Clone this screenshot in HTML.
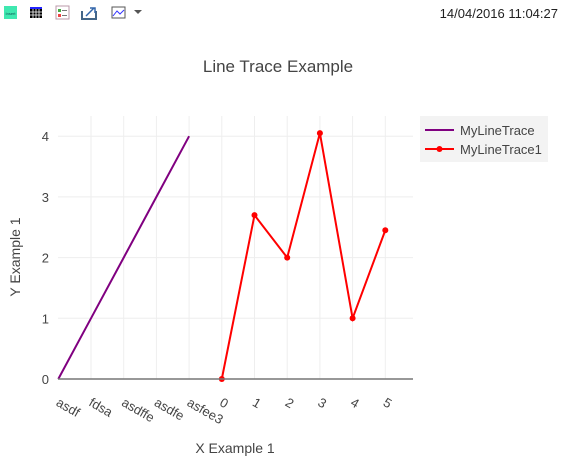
<!DOCTYPE html>
<html><head><meta charset="utf-8"><style>
body{margin:0;background:#fff;font-family:"Liberation Sans",sans-serif;}
svg text{font-family:"Liberation Sans",sans-serif;}
</style></head><body>
<svg width="562" height="461" viewBox="0 0 562 461">
<g>
 <rect x="4" y="6" width="13" height="13" fill="#3fe8b0"/>
 <text x="10.5" y="15" font-size="4" text-anchor="middle" fill="#155">Insert</text>
 <g><rect x="30" y="7" width="12" height="11" fill="#000"/><rect x="30" y="7" width="12" height="2" fill="#22f"/>
 <path d="M33 9V18M36 9V18M39 9V18M30 12H42M30 15H42" stroke="#fff" stroke-width="0.8"/></g>
 <g><rect x="56" y="6" width="13" height="13" fill="#fff" stroke="#b9a"/><rect x="58" y="9" width="3" height="3" fill="#4a4"/><rect x="58" y="14" width="3" height="3" fill="#e44"/><path d="M62 10.5H67M62 15.5H67" stroke="#777"/></g>
 <g><path d="M82 11V19H96V11" fill="none" stroke="#468" stroke-width="2"/><path d="M86 16L94 8M90 8H95V13" fill="none" stroke="#36a" stroke-width="1.5"/></g>
 <g><rect x="112" y="7" width="13" height="11" fill="#fff" stroke="#555"/><path d="M113 16L117 11L120 14L124 10" fill="none" stroke="#33f"/><path d="M134 10H142L138 14Z" fill="#555"/></g>
</g>
<text x="558" y="18" font-size="13" text-anchor="end" fill="#222">14/04/2016 11:04:27</text>
<text x="278" y="72" font-size="17" text-anchor="middle" fill="#444">Line Trace Example</text>
<g id="grid"></g>
<g id="marks"></g>
<g id="axes"></g>
<text x="235" y="453" font-size="14" text-anchor="middle" fill="#444">X Example 1</text>
<text transform="translate(20,257) rotate(-90)" font-size="14" text-anchor="middle" fill="#444">Y Example 1</text>
<g>
 <rect x="420" y="116" width="128" height="46" fill="#f3f3f3"/>
 <g><line x1="425" y1="130" x2="454" y2="130" stroke="#800080" stroke-width="2"/><text x="460" y="135" font-size="13" fill="#444">MyLineTrace</text></g>
 <g><line x1="425" y1="149" x2="454" y2="149" stroke="#f00" stroke-width="2"/><circle cx="439.5" cy="149" r="3" fill="#f00"/><text x="460" y="154" font-size="13" fill="#444">MyLineTrace1</text></g>
</g>
</svg>
<script>
const categories=["asdf","fdsa","asdffe","asdfe","asfee3","0","1","2","3","4","5"];
const yTicks=[0,1,2,3,4];
const trace1X=["asdf","fdsa","asdffe","asdfe","asfee3"];
const trace1Y=[0,1,2,3,4];
const trace2X=["0","1","2","3","4","5"];
const trace2Y=[0,2.7,2,4.05,1,2.45];
const NS="http://www.w3.org/2000/svg";
const x0=58.3,dx=32.7,y0=379,dy=60.7,plotL=58,plotR=413,plotT=116;
function xs(c){return x0+categories.indexOf(c)*dx;}
function ys(v){return y0-v*dy;}
function mk(t,a,p){const e=document.createElementNS(NS,t);for(const k in a)e.setAttribute(k,a[k]);p.appendChild(e);return e;}
const grid=document.getElementById('grid'),marks=document.getElementById('marks'),axes=document.getElementById('axes');
categories.forEach((c,i)=>{const x=xs(c);
 if(i>0){const l=mk('line',{x1:x,x2:x,y1:plotT,y2:y0,stroke:'#eee','stroke-width':1},grid);
 
 }
 const t=mk('text',{transform:`translate(${x-3},${y0+26}) rotate(30)`,'font-size':13,fill:'#444','text-anchor':'start'},axes);
 t.textContent=c;
 
 
});
yTicks.forEach(v=>{const y=ys(v);
 if(v>0){const l=mk('line',{x1:plotL,x2:plotR,y1:y,y2:y,stroke:'#eee','stroke-width':1},grid);
 
 }
 const t=mk('text',{x:49,y:y+5,'font-size':13,fill:'#444','text-anchor':'end'},axes);
 t.textContent=v;
 
 
});
const zl=mk('line',{x1:plotL,x2:plotR,y1:y0,y2:y0,stroke:'#777','stroke-width':1.5},axes);


const p1=mk('polyline',{points:trace1X.map((c,i)=>xs(c)+','+ys(trace1Y[i])).join(' '),fill:'none',stroke:'#800080','stroke-width':2},marks);


const p2=mk('polyline',{points:trace2X.map((c,i)=>xs(c)+','+ys(trace2Y[i])).join(' '),fill:'none',stroke:'#f00','stroke-width':2},marks);


trace2X.forEach((c,i)=>{const d=mk('circle',{cx:xs(c),cy:ys(trace2Y[i]),r:3,fill:'#f00'},marks);
 
 });
</script>
</body></html>
